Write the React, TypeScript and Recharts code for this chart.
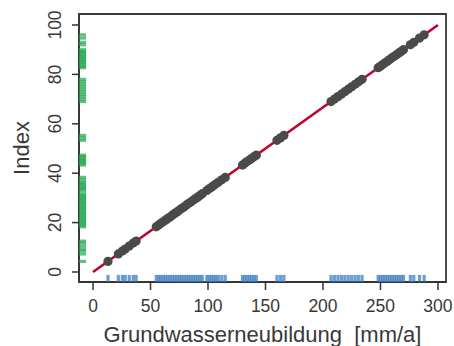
import React from 'react';
import { ScatterChart, Scatter, XAxis, YAxis, ReferenceArea } from 'recharts';

// Groundwater recharge values (x) and their index (y)
const gwn = [13, 22, 25.5, 28, 31.5, 35, 37.5, 55, 57, 59, 61, 63, 65, 67, 69, 71, 73, 75, 77, 79, 81, 83, 85, 87, 89, 91, 93, 95, 99, 101, 103, 105, 107, 109, 112, 115, 130, 132, 134, 136, 138, 140, 142, 160, 163, 166, 207, 210, 213, 216, 219, 222, 225, 228, 231, 234, 248, 250, 252, 254, 256, 258, 260, 262, 264, 266, 268, 270, 276, 279, 284, 288];
const indexValues = [4.3, 7.3, 8.5, 9.3, 10.5, 11.7, 12.5, 18.3, 19, 19.7, 20.3, 21, 21.7, 22.3, 23, 23.7, 24.3, 25, 25.7, 26.3, 27, 27.7, 28.3, 29, 29.7, 30.3, 31, 31.7, 33, 33.7, 34.3, 35, 35.7, 36.3, 37.3, 38.3, 43.3, 44, 44.7, 45.3, 46, 46.7, 47.3, 53.3, 54.3, 55.3, 69, 70, 71, 72, 73, 74, 75, 76, 77, 78, 82.7, 83.3, 84, 84.7, 85.3, 86, 86.7, 87.3, 88, 88.7, 89.3, 90, 92, 93, 94.7, 96];

const fitX = [0, 300];
const fitY = [0, 100];

const xTicks = [0, 50, 100, 150, 200, 250, 300];
const yTicks = [0, 20, 40, 60, 80, 100];

const xDomain: [number, number] = [-12.2, 307];
const yDomain: [number, number] = [-4.05, 104.45];

// rug positions (in data units)
const RUG_X = -9.1;
const RUG_Y = -2.6;

const points = gwn.map((x, i) => ({ x, y: indexValues[i] }));
const fitLine = fitX.map((x, i) => ({ x, y: fitY[i] }));
const rugLeft = indexValues.map((y) => ({ x: RUG_X, y }));
const rugBottom = gwn.map((x) => ({ x, y: RUG_Y }));

const FONT = '"Liberation Sans", Arial, sans-serif';
const TXT = '#383838';

const YTick = (props: any) => {
  const { x, y, payload } = props;
  return (
    <text x={x} y={y} transform={`rotate(-90 ${x} ${y})`} textAnchor="middle" fontSize={17.5} fontFamily={FONT} fill={TXT}>
      {payload.value}
    </text>
  );
};

const GreenRug = (props: any) => {
  const { cx, cy } = props;
  return <rect x={cx - 3.5} y={cy - 1.6} width={7} height={3.2} fill="#1fa64a" fillOpacity={0.7} />;
};

const BlueRug = (props: any) => {
  const { cx, cy } = props;
  return <rect x={cx - 1.6} y={cy - 3.5} width={3.2} height={7} fill="#3b7dbf" fillOpacity={0.75} />;
};

const Dot = (props: any) => {
  const { cx, cy } = props;
  return <circle cx={cx} cy={cy} r={4.6} fill="#4a4a4a" />;
};

const NoShape = () => <g />;

export default function App() {
  return (
    <div style={{ position: 'absolute', left: 0, top: 0, width: 454, height: 346, background: '#fff' }}>
      <ScatterChart width={454} height={346} margin={{ top: 14, right: 8, bottom: 0, left: 0 }}>
        <XAxis
          type="number"
          dataKey="x"
          domain={xDomain}
          allowDataOverflow
          ticks={xTicks}
          height={64}
          tickSize={8}
          tickMargin={10}
          stroke="#333"
          strokeWidth={1.5}
          tick={{ fontSize: 17.5, fontFamily: FONT, fill: TXT }}
          label={{ value: 'Grundwasserneubildung\u00A0\u00A0[mm/a]', position: 'insideBottom', offset: 4, fontSize: 22, fontFamily: FONT, fill: TXT }}
        />
        <YAxis
          type="number"
          dataKey="y"
          domain={yDomain}
          allowDataOverflow
          ticks={yTicks}
          width={79}
          tickSize={7}
          tickMargin={11}
          stroke="#333"
          strokeWidth={1.5}
          tick={<YTick />}
          label={{ value: 'Index', angle: -90, position: 'center', dx: -18, fontSize: 22, fontFamily: FONT, fill: TXT }}
        />
        <ReferenceArea
          x1={xDomain[0]}
          x2={xDomain[1]}
          y1={yDomain[0]}
          y2={yDomain[1]}
          fill="none"
          fillOpacity={0}
          stroke="#3a3a3a"
          strokeWidth={1.8}
          ifOverflow="visible"
        />
        <Scatter data={fitLine} line={{ stroke: '#c0022c', strokeWidth: 2.6 }} shape={<NoShape />} isAnimationActive={false} />
        <Scatter data={points} shape={<Dot />} isAnimationActive={false} />
        <Scatter data={rugLeft} shape={<GreenRug />} isAnimationActive={false} />
        <Scatter data={rugBottom} shape={<BlueRug />} isAnimationActive={false} />
      </ScatterChart>
    </div>
  );
}
